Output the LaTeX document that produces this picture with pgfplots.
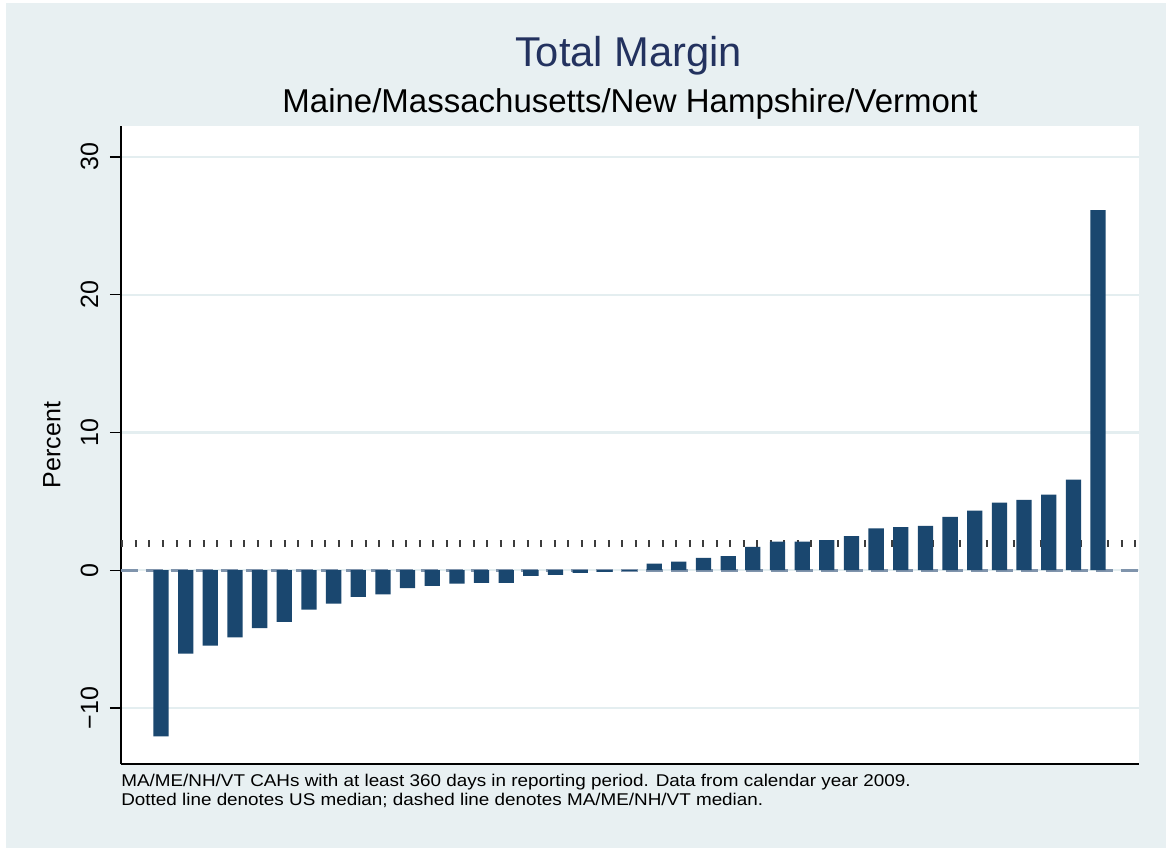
\documentclass[border=0pt]{standalone}
\usepackage{pgfplots}
\pgfplotsset{compat=1.18}
\usepackage{graphicx}
\usepackage{fontspec}
\setmainfont{Liberation Sans}

\definecolor{bgcol}{RGB}{232,240,242}
\definecolor{barcol}{RGB}{26,71,111}
\definecolor{titlecol}{RGB}{35,50,95}
\definecolor{gridcol}{RGB}{228,238,240}
\definecolor{medcol}{RGB}{128,148,172}
\definecolor{uscol}{RGB}{60,60,60}

\begin{document}
\begin{tikzpicture}
  % page and graph region (1 px of the reference = 0.6pt)
  \fill[white] (-72.6pt,-50.4pt) rectangle (627pt,458.4pt);
  \fill[bgcol] (-69pt,-50.4pt) rectangle (627pt,456.6pt);

  \begin{axis}[
    scale only axis,
    width=610.8pt, height=382.8pt,
    xmin=-0.622, xmax=40.66,
    ymin=-14.07, ymax=32.25,
    axis background/.style={fill=white},
    axis x line*=bottom, axis y line*=left,
    axis line style={-, line width=0.9pt, black},
    xtick=\empty,
    ytick={-10,0,10,20,30},
    yticklabels={−10,0,10,20,30},
    tick align=outside,
    major tick length=6.6pt,
    tick style={line width=0.8pt, black},
    yticklabel style={rotate=90, anchor=south, inner sep=6.8pt, font=\fontsize{15}{18}\selectfont},
    ymajorgrids,
    grid style={line width=1.4pt, gridcol},
    clip=true,
  ]

    % US median (dotted)
    \addplot[draw=uscol, line width=4.2pt, dash pattern=on 1.2pt off 6.9pt, dash phase=7.8pt]
      coordinates {(-0.622,1.96) (40.66,1.96)};

    % MA/ME/NH/VT median (dashed)
    \addplot[draw=medcol, line width=1.8pt, dash pattern=on 10.2pt off 4.8pt]
      coordinates {(-0.622,0) (40.66,0)};

    % Total margin by hospital, sorted
    \addplot[ybar, bar width=0.62, fill=barcol, draw=none] coordinates {
      (1,-12.06) (2,-6.05) (3,-5.47) (4,-4.87) (5,-4.21)
      (6,-3.75) (7,-2.86) (8,-2.42) (9,-1.94) (10,-1.75)
      (11,-1.31) (12,-1.14) (13,-0.97) (14,-0.92) (15,-0.92)
      (16,-0.41) (17,-0.34) (18,-0.19) (19,-0.12) (20,-0.05)
      (21,0.48) (22,0.63) (23,0.90) (24,1.02) (25,1.70)
      (26,2.08) (27,2.08) (28,2.18) (29,2.47) (30,3.03)
      (31,3.12) (32,3.22) (33,3.87) (34,4.33) (35,4.91)
      (36,5.11) (37,5.49) (38,6.58) (39,26.14)
    };
  \end{axis}

  % titles
  \node[anchor=base, text=titlecol, font=\fontsize{25}{30}\selectfont] at (304.5pt,418.2pt) {Total Margin};
  \node[anchor=base, font=\fontsize{19.8}{24}\selectfont] at (305.4pt,390.6pt) {Maine/Massachusetts/New Hampshire/Vermont};

  % y axis title
  \node[rotate=90, font=\fontsize{15}{18}\selectfont] at (-41.4pt,191.4pt) {Percent};

  % notes
  \node[anchor=base west, inner sep=0pt, font=\fontsize{10.2}{12}\selectfont] at (0pt,-13.8pt)
    {\scalebox{1.11}[1]{MA/ME/NH/VT CAHs with at least 360 days in reporting period. Data from calendar year 2009.}};
  \node[anchor=base west, inner sep=0pt, font=\fontsize{10.2}{12}\selectfont] at (0pt,-25.2pt)
    {\scalebox{1.11}[1]{Dotted line denotes US median; dashed line denotes MA/ME/NH/VT median.}};
\end{tikzpicture}
\end{document}
